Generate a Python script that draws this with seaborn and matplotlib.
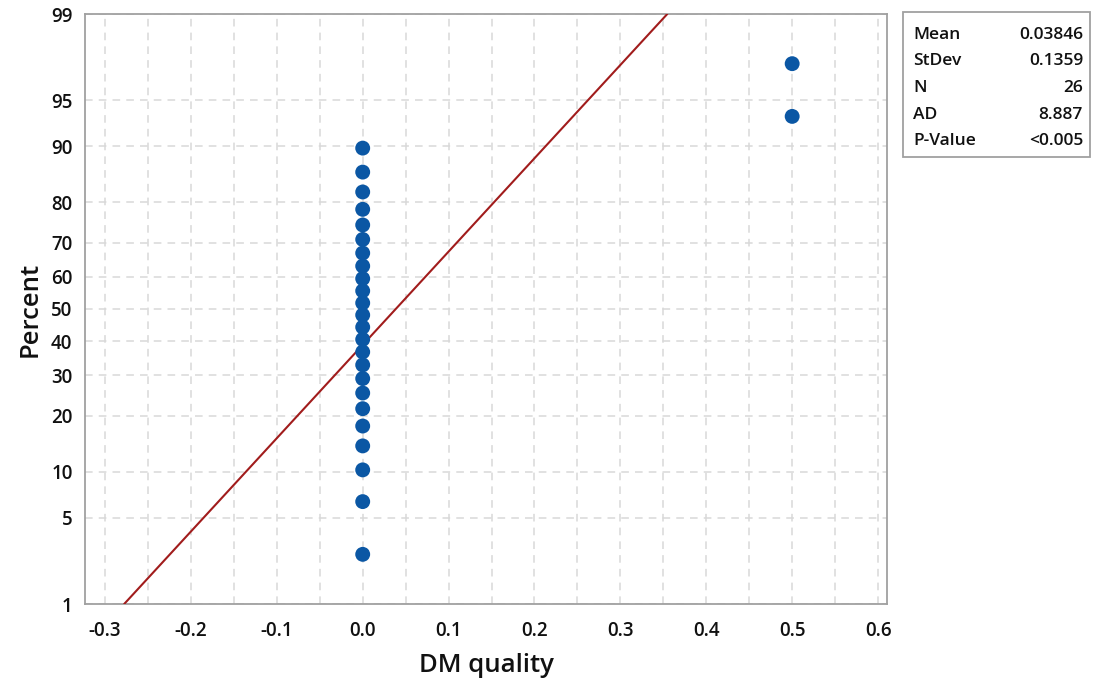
import numpy as np
import pandas as pd
import seaborn as sns
import matplotlib.pyplot as plt
from matplotlib.patches import Rectangle
from matplotlib.ticker import MultipleLocator, FixedLocator, NullFormatter
from statistics import NormalDist

# ---- data ----
dm_quality = [0.0] * 24 + [0.5, 0.5]
fit_mean = 0.03846
fit_stdev = 0.1359
stats_labels = ["Mean", "StDev", "N", "AD", "P-Value"]
stats_values = ["0.03846", "0.1359", "26", "8.887", "<0.005"]
percent_ticks = [1, 5, 10, 20, 30, 40, 50, 60, 70, 80, 90, 95, 99]
x_ticks = [-0.3, -0.2, -0.1, 0.0, 0.1, 0.2, 0.3, 0.4, 0.5, 0.6]
x_label = "DM quality"
y_label = "Percent"

nd = NormalDist()
n = len(dm_quality)
xs = sorted(dm_quality)
ranks = np.arange(1, n + 1)
pp = (ranks - 0.3) / (n + 0.4)
zs = [nd.inv_cdf(p) for p in pp]
pts = pd.DataFrame({"x": xs, "z": zs})

z_lo, z_hi = nd.inv_cdf(0.01), nd.inv_cdf(0.99)
fz = np.linspace(z_lo, z_hi, 60)
fit = pd.DataFrame({"z": fz, "x": fit_mean + fit_stdev * fz})

sns.set_style("white")
plt.rcParams["font.family"] = ["Open Sans", "DejaVu Sans"]

fig = plt.figure(figsize=(10.98, 6.82), dpi=100)
W, H = 1098, 682
ax = fig.add_axes([85 / W, (H - 604) / H, (887 - 85) / W, (604 - 14) / H])

sns.lineplot(data=fit, x="x", y="z", ax=ax, color="#a11c1c", lw=1.5,
             sort=False, estimator=None, zorder=3)
sns.scatterplot(data=pts, x="x", y="z", ax=ax, color="#0b57a4", s=115,
                edgecolor="none", zorder=4)

ax.set_xlim(-0.3233, 0.6104)
ax.set_ylim(z_lo, z_hi)
ax.set_yticks([nd.inv_cdf(p / 100) for p in percent_ticks])
ax.set_yticklabels([str(p) for p in percent_ticks])
ax.xaxis.set_major_locator(FixedLocator(x_ticks))
ax.set_xticklabels([f"{v:.1f}" for v in x_ticks])
ax.xaxis.set_minor_locator(MultipleLocator(0.05))
ax.xaxis.set_minor_formatter(NullFormatter())
ax.tick_params(axis="x", which="minor", length=0)
ax.tick_params(axis="both", which="major", length=7, width=1, color="#a0a0a0",
               labelsize=13.5, labelcolor="#111111", direction="out")
ax.tick_params(axis="x", which="major", pad=5)
ax.tick_params(axis="y", which="major", pad=2)
for lab in ax.get_xticklabels() + ax.get_yticklabels():
    lab.set_fontweight("semibold")

ax.grid(True, which="both", axis="x", color="#d9d9d9", ls=(0, (5, 4)), lw=1.1)
ax.grid(True, which="major", axis="y", color="#d9d9d9", ls=(0, (5, 4)), lw=1.1)
ax.set_axisbelow(True)
for sp in ax.spines.values():
    sp.set_color("#a0a0a0")
    sp.set_linewidth(1.3)

ax.set_xlabel(x_label, fontsize=18.5, fontweight="semibold", color="#111111", labelpad=9)
ax.set_ylabel(y_label, fontsize=18.5, fontweight="semibold", color="#111111", labelpad=6)

# stats box
fig.patches.append(Rectangle((903 / W, (H - 157) / H), (1090 - 903) / W, (157 - 12) / H,
                             transform=fig.transFigure, fill=False,
                             edgecolor="#a0a0a0", lw=1.3))
row_y = [35, 61, 88, 115, 141]
for lab, val, yy in zip(stats_labels, stats_values, row_y):
    fig.text(913 / W, (H - yy) / H, lab, ha="left", va="center", fontsize=12.5,
             fontweight="semibold", color="#111111")
    fig.text(1083 / W, (H - yy) / H, val, ha="right", va="center", fontsize=12.5,
             fontweight="semibold", color="#111111")

fig.savefig("out.png", dpi=100)
